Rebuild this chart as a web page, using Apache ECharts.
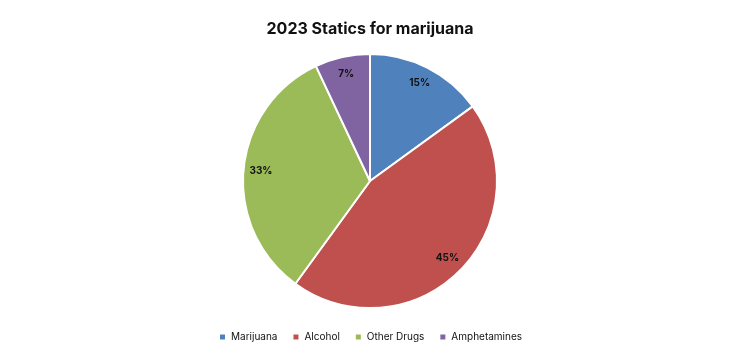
<!DOCTYPE html>
<html><head><meta charset="utf-8">
<script src="https://cdn.jsdelivr.net/npm/echarts@6/dist/echarts.min.js"></script>
<style>html,body{margin:0;padding:0;background:#fff}#c{width:740px;height:360px}</style>
</head><body><div id="c"></div>
<script>
const categories = ['Marijuana', 'Alcohol', 'Other Drugs', 'Amphetamines'];
const values = [15, 45, 33, 7];
const colors = ['#4F81BD', '#C0504D', '#9BBB59', '#8064A2'];
const font = 'Inter, "Noto Sans", sans-serif';
const data = categories.map((n, i) => ({ name: n, value: values[i] }));
const chart = echarts.init(document.getElementById('c'));
chart.setOption({
  animation: false,
  color: colors,
  title: { text: '2023 Statics for marijuana', left: 'center', top: 16,
    textStyle: { fontFamily: font, fontSize: 16, fontWeight: 'bold', color: '#111' } },
  legend: { bottom: 13, left: 'center', icon: 'rect', itemWidth: 7, itemHeight: 7, itemGap: 14,
    textStyle: { fontFamily: font, fontSize: 10, color: '#111' }, data: categories },
  series: [
    { type: 'pie', center: [370, 181], radius: [0, 127], startAngle: 90, clockwise: true,
      data: data, label: { show: false }, labelLine: { show: false },
      itemStyle: { borderColor: '#fff', borderWidth: 2 }, silent: true },
    { type: 'pie', center: [370, 181], radius: [86, 127], startAngle: 90, clockwise: true,
      data: data, silent: true, legendHoverLink: false,
      itemStyle: { color: 'rgba(0,0,0,0)', borderWidth: 0 },
      label: { show: true, position: 'inside', formatter: '{c}%', fontFamily: font, fontSize: 10, fontWeight: 'bold', color: '#111' },
      labelLine: { show: false } }
  ]
});
</script></body></html>
